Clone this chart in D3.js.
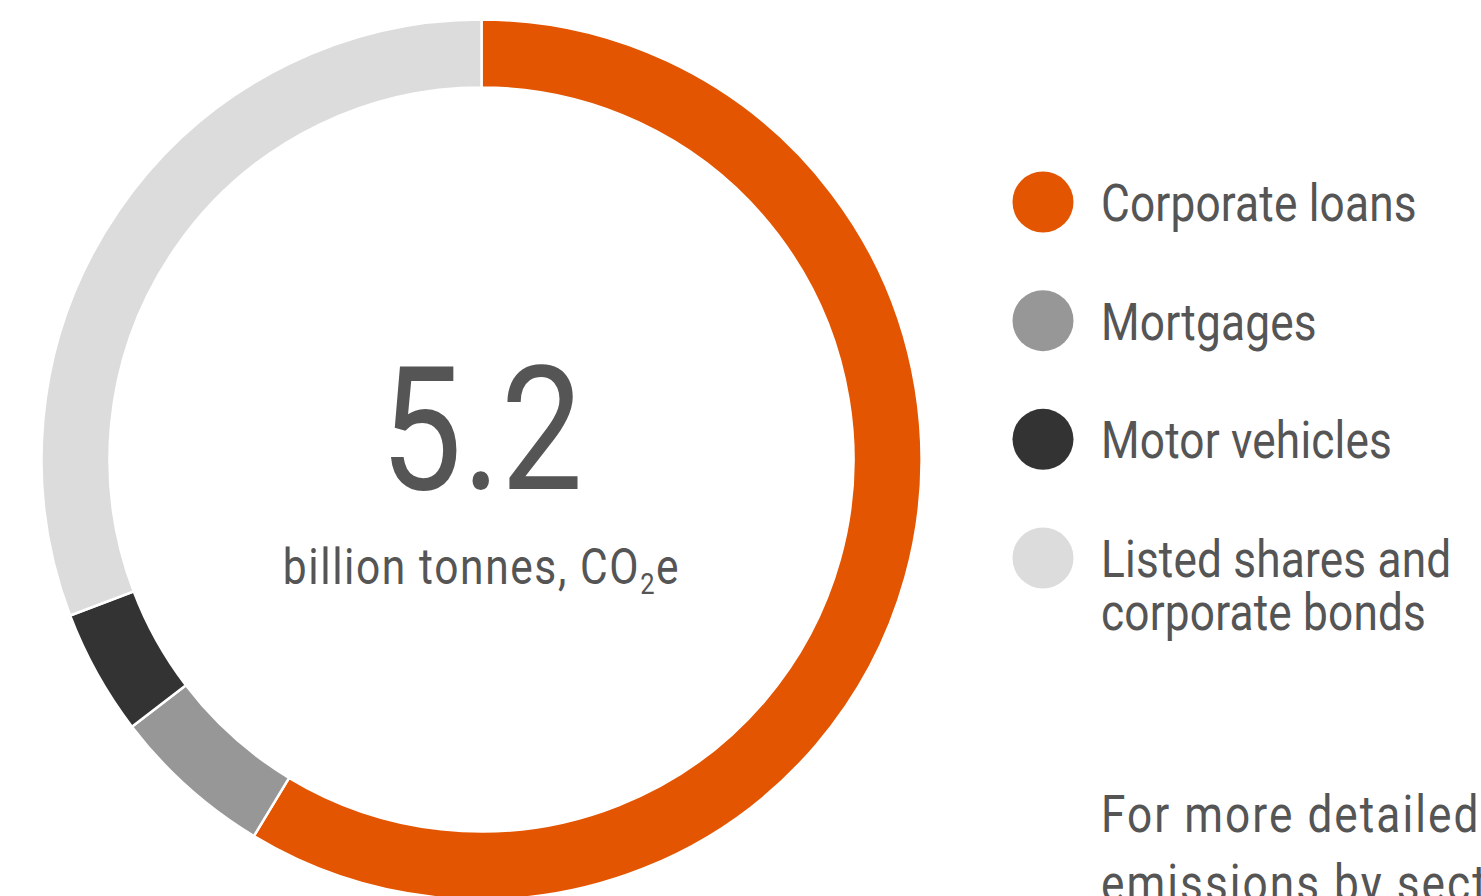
<!DOCTYPE html>
<html>
<head>
<meta charset="utf-8">
<script src="https://cdn.jsdelivr.net/npm/d3@7"></script>
<style>
  html, body { margin: 0; padding: 0; background: #ffffff; overflow: hidden; }
  svg { display: block; }
  text { font-family: Roboto, "Noto Sans", sans-serif; font-weight: 400; fill: #555555; }
</style>
</head>
<body>
<svg id="chart" width="1481" height="896"></svg>
<script>
// Financed emissions by asset class, billion tonnes CO2e
const categories = ["Corporate loans", "Mortgages", "Motor vehicles", "Listed shares and\ncorporate bonds"];
const values = [3.05, 0.31, 0.24, 1.6];
const colors = ["#e35500", "#979797", "#333333", "#dcdcdc"];
const totalLabel = "5.2";
const unitLabel = ["billion tonnes, CO", "2", "e"];
const noteLines = ["For more detailed", "emissions by sector"];

const svg = d3.select("#chart");

const cx = 481.5, cy = 459.5;
const outerR = 440, innerR = 372;
const squeeze = 0.85; // horizontal condensing for the narrow type face

const pie = d3.pie().sort(null).value(d => d).startAngle(0).endAngle(2 * Math.PI);
const arc = d3.arc().innerRadius(innerR).outerRadius(outerR);
const color = d3.scaleOrdinal().domain(categories).range(colors);

const ring = svg.append("g").attr("transform", `translate(${cx},${cy})`);
ring.selectAll("path")
  .data(pie(values))
  .join("path")
  .attr("d", arc)
  .attr("fill", (d, i) => color(categories[i]))
  .attr("stroke", "#ffffff")
  .attr("stroke-width", 2.5)
  .attr("stroke-linejoin", "miter");

// Centre total
ring.append("text")
  .attr("text-anchor", "middle")
  .attr("transform", `translate(0,29) scale(${squeeze},1)`)
  .attr("font-size", 172)
  .text(totalLabel);

const unit = ring.append("text")
  .attr("text-anchor", "middle")
  .attr("transform", `translate(0,124) scale(${squeeze},1)`)
  .attr("font-size", 50)
  .attr("letter-spacing", 1.9);
unit.append("tspan").text(unitLabel[0]);
unit.append("tspan").attr("font-size", 30).attr("dy", 10).text(unitLabel[1]);
unit.append("tspan").attr("dy", -10).text(unitLabel[2]);

// Legend
const legendX = 1043, legendTextX = 1101;
const legendY = d3.scalePoint().domain(categories).range([202, 558]);

const legend = svg.append("g");
const items = legend.selectAll("g")
  .data(categories)
  .join("g")
  .attr("transform", d => `translate(0,${legendY(d)})`);

items.append("circle")
  .attr("cx", legendX)
  .attr("cy", 0)
  .attr("r", 30.5)
  .attr("fill", d => color(d));

items.append("text")
  .attr("transform", `translate(${legendTextX},19) scale(${squeeze},1)`)
  .attr("font-size", 52)
  .attr("letter-spacing", 0.2)
  .selectAll("tspan")
  .data(d => d.split("\n"))
  .join("tspan")
  .attr("x", 0)
  .attr("y", (d, i) => i * 53)
  .text(d => d);

// Footnote, running off the right and bottom edges
svg.append("text")
  .attr("transform", `translate(${legendTextX},832) scale(${squeeze},1)`)
  .attr("font-size", 52)
  .attr("letter-spacing", 2.4)
  .selectAll("tspan")
  .data(noteLines)
  .join("tspan")
  .attr("x", 0)
  .attr("y", (d, i) => i * 69)
  .text(d => d);
</script>
</body>
</html>
